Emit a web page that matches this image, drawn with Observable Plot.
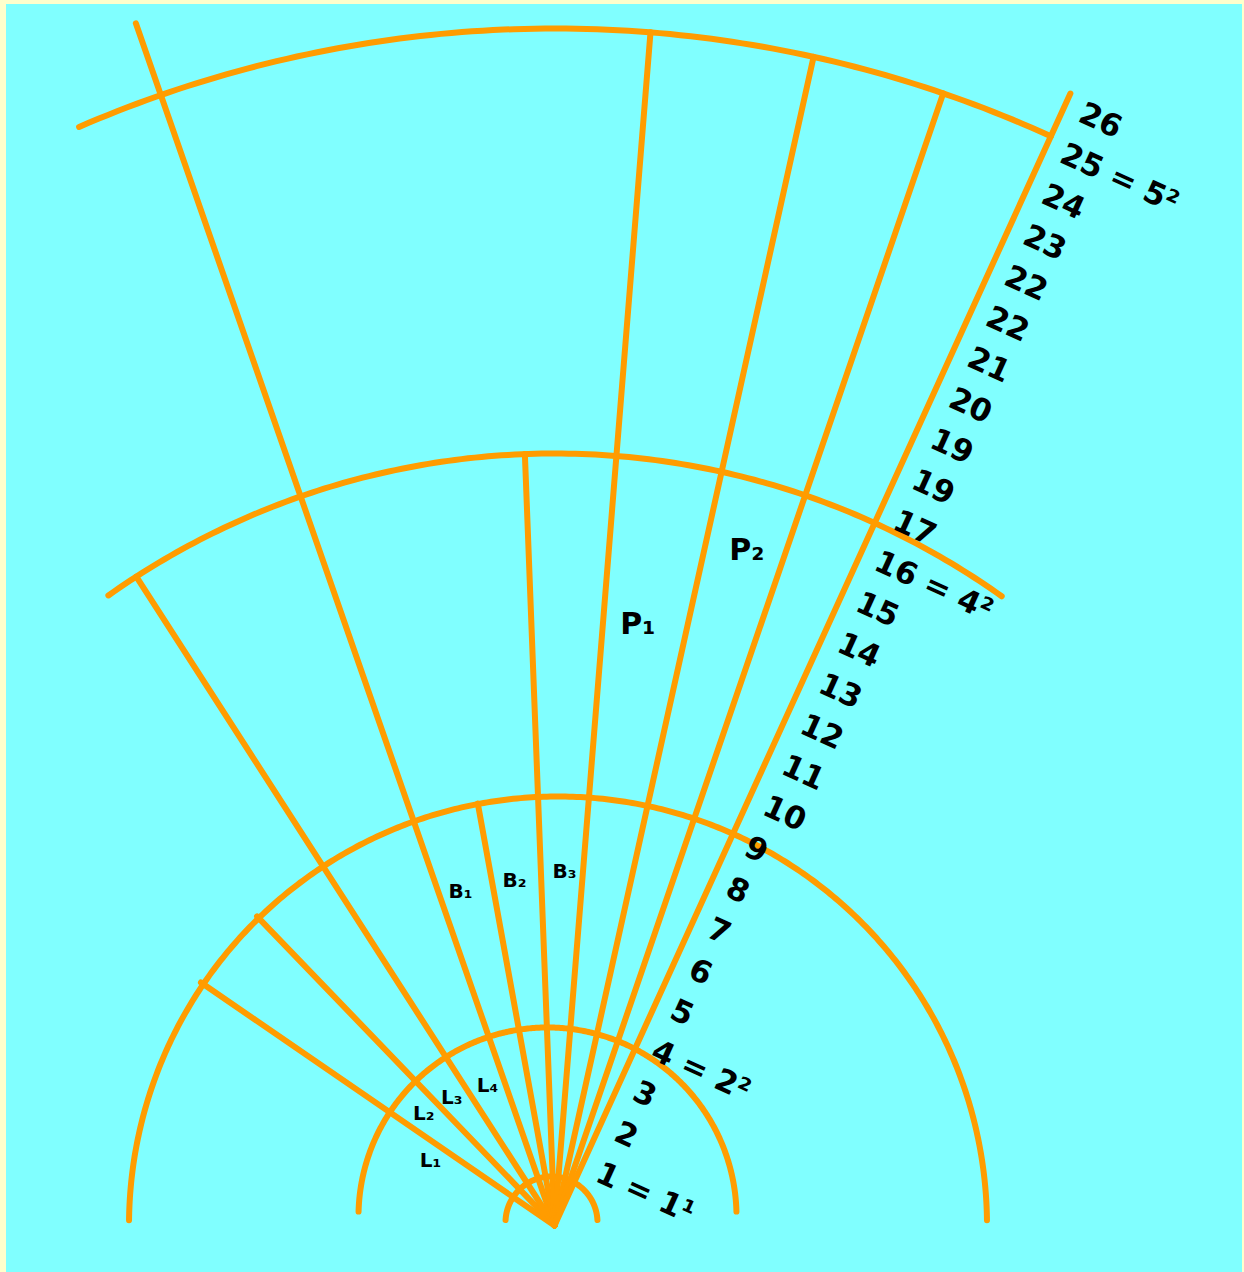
<!DOCTYPE html>
<html><head><meta charset="utf-8">
<script src="https://cdn.jsdelivr.net/npm/d3@7"></script>
<script src="https://cdn.jsdelivr.net/npm/@observablehq/plot@0.6"></script>
<style>
html,body{margin:0;padding:0;background:#ffffcc;width:1244px;height:1272px;overflow:hidden;}
#chart{position:absolute;left:6px;top:4px;width:1236px;height:1268px;background:#80ffff;}
#chart svg{display:block;}
</style></head><body><div id="chart"></div>
<script>
// Arcs (radius, start angle, end angle; degrees measured clockwise from vertical; centre offset)
const arcRadii = [46, 189, 429, 772, 1197];
const arcFrom = [-87, -88.5, -89.3, -35.3, -23.4];
const arcTo = [87, 88.5, 89.3, 35.4, 24.5];
const arcCx = [-3, -7, 3.5, 0, 0];
const arcCy = [3, 9, 0, 0, 0];

// Rays from the common origin
const rayAngles = [-55.5, -43.9, -32.8, -19.2, -10.3, -2.2, 4.6, 12.5, 18.95, 24.5];
const rayLengths = [429, 429, 772, 1273, 429, 772, 1197, 1197, 1197, 1244];

// Scale labels along the last ray
const scaleLabels = ["1 = 1¹","2","3","4 = 2²","5","6","7","8","9","10","11","12","13","14","15","16 = 4²","17","19","19","20","21","22","22","23","24","25 = 5²","26"];
const scaleStart = 67, scaleStep = 44.8, scaleOffset = 17;

// Region labels (polar positions)
const regionLabels = ["L₁","L₂","L₃","L₄","B₁","B₂","B₃","P₁","P₂"];
const regionAngles = [-62.3, -49.5, -38.8, -25.6, -15.7, -6.6, 1.6, 7.9, 15.9];
const regionDist = [140, 172, 164, 155, 347, 347, 354, 607, 702];
const regionSize = [20, 20, 20, 20, 20, 20, 20, 30, 30];

const rad = d => d * Math.PI / 180;
const polar = (a, r) => ({x: r * Math.sin(rad(a)), y: r * Math.cos(rad(a))});

const arcPts = [];
arcRadii.forEach((r, i) => {
  const n = Math.max(20, Math.ceil(Math.abs(arcTo[i] - arcFrom[i]) * 2));
  for (let k = 0; k <= n; k++) {
    const a = arcFrom[i] + (arcTo[i] - arcFrom[i]) * k / n;
    const p = polar(a, r);
    arcPts.push({arc: i, x: p.x + arcCx[i], y: p.y + arcCy[i]});
  }
});
const rays = rayAngles.map((a, i) => ({...polar(a, rayLengths[i])}));
const lastAngle = rayAngles[rayAngles.length - 1];
const scaleData = scaleLabels.map((t, i) => {
  const along = scaleStart + i * scaleStep;
  const p = polar(lastAngle, along);
  const v = {x: Math.cos(rad(lastAngle)), y: -Math.sin(rad(lastAngle))};
  return {text: t, x: p.x + scaleOffset * v.x, y: p.y + scaleOffset * v.y};
});
const regionData = regionLabels.map((t, i) => ({text: t, size: regionSize[i], ...polar(regionAngles[i], regionDist[i])}));

const W = 1236, H = 1268, ox = 548, oy = 1221;
const orange = "#ff9c00";
const chart = Plot.plot({
  width: W, height: H, margin: 0,
  x: {domain: [-ox, W - ox], range: [0, W], axis: null},
  y: {domain: [oy - H, oy], range: [H, 0], axis: null},
  style: {background: "transparent", fontFamily: "'DejaVu Sans', Verdana, sans-serif", overflow: "visible"},
  marks: [
    Plot.line(arcPts, {x: "x", y: "y", z: "arc", stroke: orange, strokeWidth: 6, strokeLinecap: "round", strokeLinejoin: "round"}),
    Plot.link(rays, {x1: 0, y1: 0, x2: "x", y2: "y", stroke: orange, strokeWidth: 6, strokeLinecap: "round"}),
    Plot.text(scaleData, {x: "x", y: "y", text: "text", rotate: lastAngle, textAnchor: "start", lineAnchor: "middle", fontSize: 31, fontWeight: "bold", fill: "black"}),
    Plot.text(regionData.filter(d => d.size === 20), {x: "x", y: "y", text: "text", textAnchor: "middle", lineAnchor: "middle", fontSize: 20, fontWeight: "bold", fill: "black"}),
    Plot.text(regionData.filter(d => d.size === 30), {x: "x", y: "y", text: "text", textAnchor: "middle", lineAnchor: "middle", fontSize: 30, fontWeight: "bold", fill: "black"})
  ]
});
document.getElementById("chart").appendChild(chart);
</script></body></html>
